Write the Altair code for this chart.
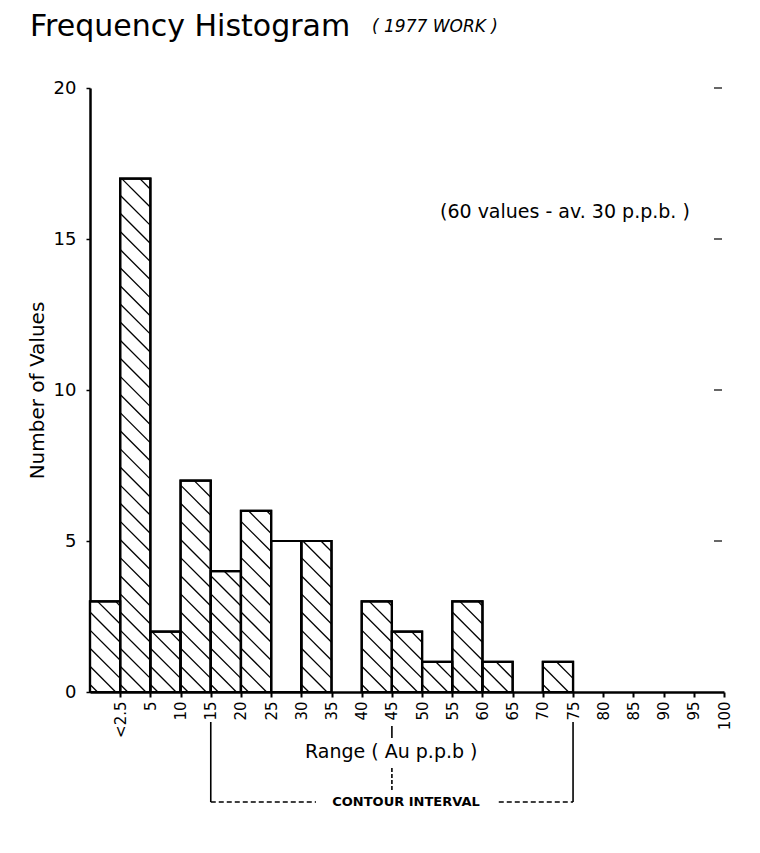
import json
import altair as alt
import numpy as np
import pandas as pd

# ---- data ----
boundary_labels = ["<2.5", "5", "10", "15", "20", "25", "30", "35", "40", "45", "50",
                   "55", "60", "65", "70", "75", "80", "85", "90", "95", "100"]
counts = [3, 17, 2, 7, 4, 6, 5, 5, 0, 3, 2, 1, 3, 1, 0, 1, 0, 0, 0, 0, 0]
hatched = [True, True, True, True, True, True, False, True, True, True, True,
           True, True, True, True, True, True, True, True, True, True]
y_ticks = [0, 5, 10, 15, 20]
right_marks = [5, 10, 15, 20]
contour_interval = ["15", "75"]
range_centre = "45"

n_bins = len(counts)
bars = pd.DataFrame({
    "start": list(range(n_bins)),
    "end": [i + 1 for i in range(n_bins)],
    "count": counts,
})
bars = bars[bars["count"] > 0]

# hatch segments (slope "\"), derived from the bars
spacing = 0.6
segs = []
for i, (h, hat) in enumerate(zip(counts, hatched)):
    if h <= 0 or not hat:
        continue
    a = float(i)
    for c in np.arange(a + 0.25, a + 1 + h, spacing):
        x1 = max(a, c - h)
        x2 = min(a + 1, c)
        if x2 - x1 > 0.02:
            segs.append({"x": x1, "y": c - x1, "x2": x2, "y2": c - x2})
hatch = pd.DataFrame(segs)

ci_idx = [boundary_labels.index(v) + 1 for v in contour_interval]
centre_idx = boundary_labels.index(range_centre) + 1

labels_js = json.dumps(boundary_labels).replace('"', "'")
FONT = "DejaVu Sans"

xs = alt.Scale(domain=[0, n_bins], nice=False, zero=False)
ys = alt.Scale(domain=[0, 20], nice=False)

x_axis = alt.Axis(values=list(range(1, n_bins + 1)),
                  labelExpr=f"{labels_js}[datum.value - 1]",
                  labelAngle=-90, labelFontSize=15, labelFont=FONT,
                  labelOverlap=False, labelBound=False, labelFlush=False,
                  labelColor="black", tickColor="black", tickSize=5, tickWidth=2,
                  domainColor="black", domainWidth=2.5, grid=False, title=None,
                  labelPadding=4)
y_axis = alt.Axis(values=y_ticks, labelFontSize=18, labelFont=FONT,
                  labelOverlap=False,
                  labelColor="black", tickColor="black", tickSize=4, tickWidth=1.5,
                  domainColor="black", domainWidth=2.5, grid=False,
                  title="Number of Values", titleFont=FONT, titleFontSize=20,
                  titleFontWeight="normal", titleColor="black", titlePadding=6,
                  labelPadding=10)

def X(f):
    return alt.X(f, scale=xs, axis=x_axis)

def Y(f):
    return alt.Y(f, scale=ys, axis=y_axis)

bar_layer = alt.Chart(bars).mark_rect(fill="white", stroke="black", strokeWidth=2.2).encode(
    x=X("start:Q"), x2="end:Q", y=Y("count:Q"), y2=alt.datum(0))

hatch_layer = alt.Chart(hatch).mark_rule(color="black", strokeWidth=1.3).encode(
    x=X("x:Q"), y=Y("y:Q"), x2="x2:Q", y2="y2:Q")

outline_layer = alt.Chart(bars).mark_rect(fill=None, stroke="black", strokeWidth=2.2).encode(
    x=X("start:Q"), x2="end:Q", y=Y("count:Q"), y2=alt.datum(0))

right_layer = alt.Chart(pd.DataFrame({"v": right_marks})).mark_rule(
    color="black", strokeWidth=1.2).encode(
    y=Y("v:Q"), x=alt.value(624), x2=alt.value(632))

one = pd.DataFrame({"a": [0]})

def txt(text, x, y, size, **kw):
    return alt.Chart(one).mark_text(text=text, align="left", baseline="alphabetic",
                                    font=FONT, fontSize=size, color="black", **kw).encode(
        x=alt.value(x), y=alt.value(y))

title1 = txt("Frequency Histogram", -60, -52, 30)
title2 = txt("( 1977  WORK )", 282, -56, 17, fontStyle="italic")
note = txt("(60 values  -  av. 30 p.p.b. )", 350, 130, 19)
range_lbl = txt("Range  ( Au p.p.b )", 215, 670, 19)

ci = pd.DataFrame({"x": ci_idx})
ci_vert = alt.Chart(ci).mark_rule(color="black", strokeWidth=1.6).encode(
    x=X("x:Q"), y=alt.value(634), y2=alt.value(714))
ci_bottom = alt.Chart(pd.DataFrame({"x": [ci_idx[0]], "x2": [ci_idx[1]]})).mark_rule(
    color="black", strokeWidth=1.3, strokeDash=[5, 3]).encode(
    x=X("x:Q"), x2="x2:Q", y=alt.value(714))
centre = pd.DataFrame({"x": [centre_idx]})
ci_centre1 = alt.Chart(centre).mark_rule(color="black", strokeWidth=1.6).encode(
    x=X("x:Q"), y=alt.value(638), y2=alt.value(650))
ci_centre2 = alt.Chart(centre).mark_rule(color="black", strokeWidth=1.6, strokeDash=[4, 2]).encode(
    x=X("x:Q"), y=alt.value(680), y2=alt.value(702))
ci_mask = alt.Chart(one).mark_rect(fill="white").encode(
    x=alt.value(226), x2=alt.value(406), y=alt.value(706), y2=alt.value(722))
ci_text = alt.Chart(one).mark_text(text="CONTOUR INTERVAL", align="center", baseline="middle",
                                   font=FONT, fontSize=13, fontWeight="bold", color="black").encode(
    x=alt.value(316), y=alt.value(714))

chart = alt.layer(
    bar_layer, hatch_layer, outline_layer, right_layer,
    title1, title2, note, range_lbl,
    ci_vert, ci_bottom, ci_centre1, ci_centre2, ci_mask, ci_text,
).properties(
    width=634, height=604,
    autosize=alt.AutoSizeParams(type="none"),
    padding={"left": 82, "top": 80, "right": 26, "bottom": 148},
).configure(background="white", view=alt.ViewConfig(stroke=None)
).configure_axis(labelOverlap=False)

chart.save("out.html", embed_options={"renderer": "svg", "actions": False})
